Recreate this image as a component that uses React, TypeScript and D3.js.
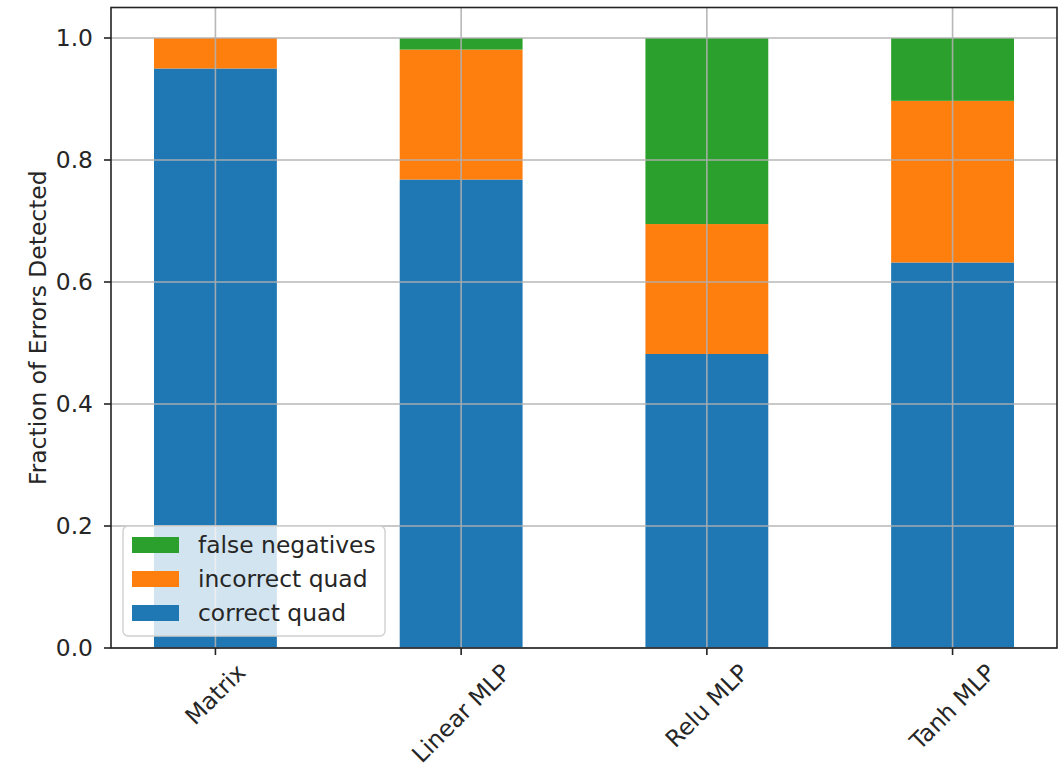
import React, { useEffect, useRef } from "react";
import * as d3 from "d3";

const categories = ["Matrix", "Linear MLP", "Relu MLP", "Tanh MLP"];
const correctQuad = [0.95, 0.768, 0.482, 0.632];
const incorrectQuad = [0.05, 0.213, 0.213, 0.265];
const falseNegatives = [0.0, 0.019, 0.305, 0.103];
const seriesNames = ["correct quad", "incorrect quad", "false negatives"];
const seriesColors = ["#1f77b4", "#ff7f0e", "#2ca02c"];
const yTicks = [0, 0.2, 0.4, 0.6, 0.8, 1.0];
const yLabel = "Fraction of Errors Detected";

const W = 1061;
const H = 767;
const left = 111;
const right = 1057;
const top = 7.5;
const bottom = 648;
const FONT = "DejaVu Sans, sans-serif";
const FS = 23.4;
const TXT = "#262626";

export default function App() {
  const ref = useRef<SVGSVGElement>(null);
  useEffect(() => {
    const svg = d3.select(ref.current);
    svg.selectAll("*").remove();
    const x = d3.scaleLinear().domain([-0.425, 3.425]).range([left, right]);
    const y = d3.scaleLinear().domain([0, 1.05]).range([bottom, top]);
    const bw = x(0.5) - x(0);

    const series = [correctQuad, incorrectQuad, falseNegatives];
    const g = svg.append("g");
    categories.forEach((_, i) => {
      let base = 0;
      series.forEach((s, k) => {
        const v = s[i];
        if (v > 0) {
          g.append("rect")
            .attr("x", x(i) - bw / 2)
            .attr("y", y(base + v))
            .attr("width", bw)
            .attr("height", y(base) - y(base + v))
            .attr("fill", seriesColors[k]);
        }
        base += v;
      });
    });

    // grid
    const grid = svg.append("g").attr("stroke", "#b0b0b0").attr("stroke-width", 1.6).attr("opacity", 0.9);
    yTicks.forEach((t) => {
      grid.append("line").attr("x1", left).attr("x2", right).attr("y1", y(t)).attr("y2", y(t));
    });
    categories.forEach((_, i) => {
      grid.append("line").attr("x1", x(i)).attr("x2", x(i)).attr("y1", top).attr("y2", bottom);
    });

    // frame
    svg.append("rect")
      .attr("x", left).attr("y", top).attr("width", right - left).attr("height", bottom - top)
      .attr("fill", "none").attr("stroke", "#222").attr("stroke-width", 1.6);

    // y ticks
    yTicks.forEach((t) => {
      svg.append("line").attr("x1", left - 7).attr("x2", left).attr("y1", y(t)).attr("y2", y(t))
        .attr("stroke", "#222").attr("stroke-width", 1.6);
      svg.append("text").attr("x", left - 18).attr("y", y(t)).attr("dy", "0.36em")
        .attr("text-anchor", "end").attr("font-family", FONT).attr("font-size", FS).attr("fill", TXT)
        .text(t.toFixed(1));
    });

    // x ticks + rotated labels
    categories.forEach((c, i) => {
      svg.append("line").attr("x1", x(i)).attr("x2", x(i)).attr("y1", bottom).attr("y2", bottom + 7)
        .attr("stroke", "#222").attr("stroke-width", 1.6);
      const t = svg.append("text").attr("font-family", FONT).attr("font-size", FS).attr("fill", TXT)
        .attr("text-anchor", "middle").attr("dominant-baseline", "central").text(c);
      const w = (t.node() as SVGTextElement).getComputedTextLength();
      const fh = FS * 1.0;
      const bh = (w + fh) / Math.SQRT2;
      const cy = bottom + 12 + bh / 2;
      t.attr("transform", `translate(${x(i)},${cy}) rotate(-45)`);
    });

    // y label
    svg.append("text").attr("transform", `translate(38,${(top + bottom) / 2}) rotate(-90)`)
      .attr("text-anchor", "middle").attr("dominant-baseline", "central")
      .attr("font-family", FONT).attr("font-size", FS).attr("fill", TXT).text(yLabel);

    // legend
    const lg = svg.append("g");
    lg.append("rect").attr("x", 123).attr("y", 526).attr("width", 262).attr("height", 110)
      .attr("rx", 5).attr("fill", "rgba(255,255,255,0.8)").attr("stroke", "#d0d0d0").attr("stroke-width", 1.4);
    const order = [2, 1, 0];
    order.forEach((k, r) => {
      const cy = 545 + r * 34;
      lg.append("rect").attr("x", 132).attr("y", cy - 8).attr("width", 47).attr("height", 16)
        .attr("fill", seriesColors[k]);
      lg.append("text").attr("x", 198).attr("y", cy).attr("dy", "0.36em")
        .attr("font-family", FONT).attr("font-size", FS).attr("fill", TXT).text(seriesNames[k]);
    });
  }, []);
  return (
    <svg ref={ref} width={W} height={H} style={{ position: "absolute", left: 0, top: 0, background: "#fff" }} />
  );
}
